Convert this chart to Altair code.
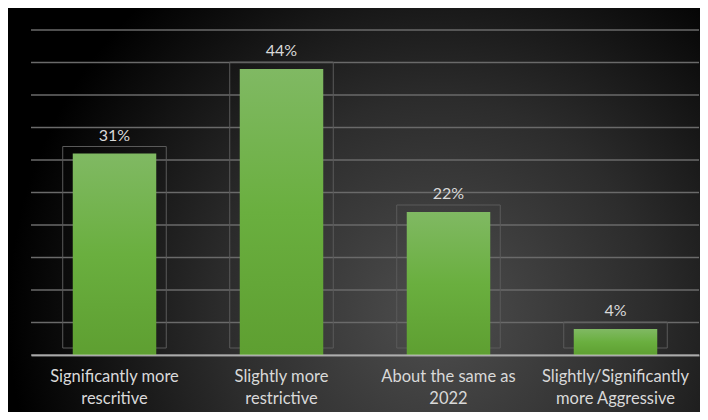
import altair as alt
import pandas as pd

categories = ["Significantly more\nrescritive", "Slightly more\nrestrictive",
              "About the same as\n2022", "Slightly/Significantly\nmore Aggressive"]
values = [31, 44, 22, 4]
labels = ["31%", "44%", "22%", "4%"]
grid_values = [0, 5, 10, 15, 20, 25, 30, 35, 40, 45, 50]

W, H = 668, 325
df = pd.DataFrame({"cat": categories, "val": values, "lab": labels})
grid_df = pd.DataFrame({"g": grid_values})

x_enc = alt.X("cat:N", sort=categories, scale=alt.Scale(paddingInner=0, paddingOuter=0),
              axis=alt.Axis(title=None, labelAngle=0, labelExpr="split(datum.label, '\\n')",
                            labelColor="#d9d9d9", labelFont="Lato", labelFontSize=16.5,
                            labelLineHeight=22, labelPadding=13, ticks=False,
                            domainColor="#d8d8d8", domainOpacity=0.65, domainWidth=2,
                            zindex=1))
y_scale = alt.Scale(domain=[0, 50], nice=False)

bg = alt.Chart(pd.DataFrame({"a": [0]})).mark_rect(
    fill=alt.Gradient(gradient="radial",
                      stops=[alt.GradientStop(color="#4e4e4e", offset=0),
                             alt.GradientStop(color="#2c2c2c", offset=0.5),
                             alt.GradientStop(color="#000000", offset=1)],
                      x1=0.62, y1=0.65, x2=0.62, y2=0.65, r1=0, r2=0.62)
).encode(x=alt.value(-23), x2=alt.value(669), y=alt.value(-22), y2=alt.value(383))

grid = alt.Chart(grid_df).mark_rule(color="#6a6a6a", strokeWidth=1.3).encode(
    y=alt.Y("g:Q", scale=y_scale, axis=None))

box = alt.Chart(df).mark_bar(fill=None, stroke="#5a5a5a", strokeWidth=1,
                             width=alt.RelativeBandSize(0.62),
                             yOffset=-7, y2Offset=7).encode(
    x=x_enc, y=alt.Y("val:Q", scale=y_scale, axis=None))

bars = alt.Chart(df).mark_bar(
    width=alt.RelativeBandSize(0.5),
    fill=alt.Gradient(gradient="linear",
                      stops=[alt.GradientStop(color="#80b963", offset=0),
                             alt.GradientStop(color="#6aaf3f", offset=0.5),
                             alt.GradientStop(color="#5e9f31", offset=1)],
                      x1=0, x2=0, y1=0, y2=1)
).encode(x=x_enc, y=alt.Y("val:Q", scale=y_scale, axis=None))

text = alt.Chart(df).mark_text(color="#d9d9d9", font="Lato", fontSize=16, dy=-13,
                               baseline="alphabetic").encode(
    x=x_enc, y=alt.Y("val:Q", scale=y_scale, axis=None), text="lab:N")

chart = alt.layer(bg, grid, box, bars, text).properties(
    width=W, height=H,
    padding={"left": 23, "top": 22, "right": 1, "bottom": 57},
    autosize=alt.AutoSizeParams(type="none"),
    background="#000000",
).configure_view(stroke=None)

chart.save("out.html", embed_options={"renderer": "svg", "actions": False})
